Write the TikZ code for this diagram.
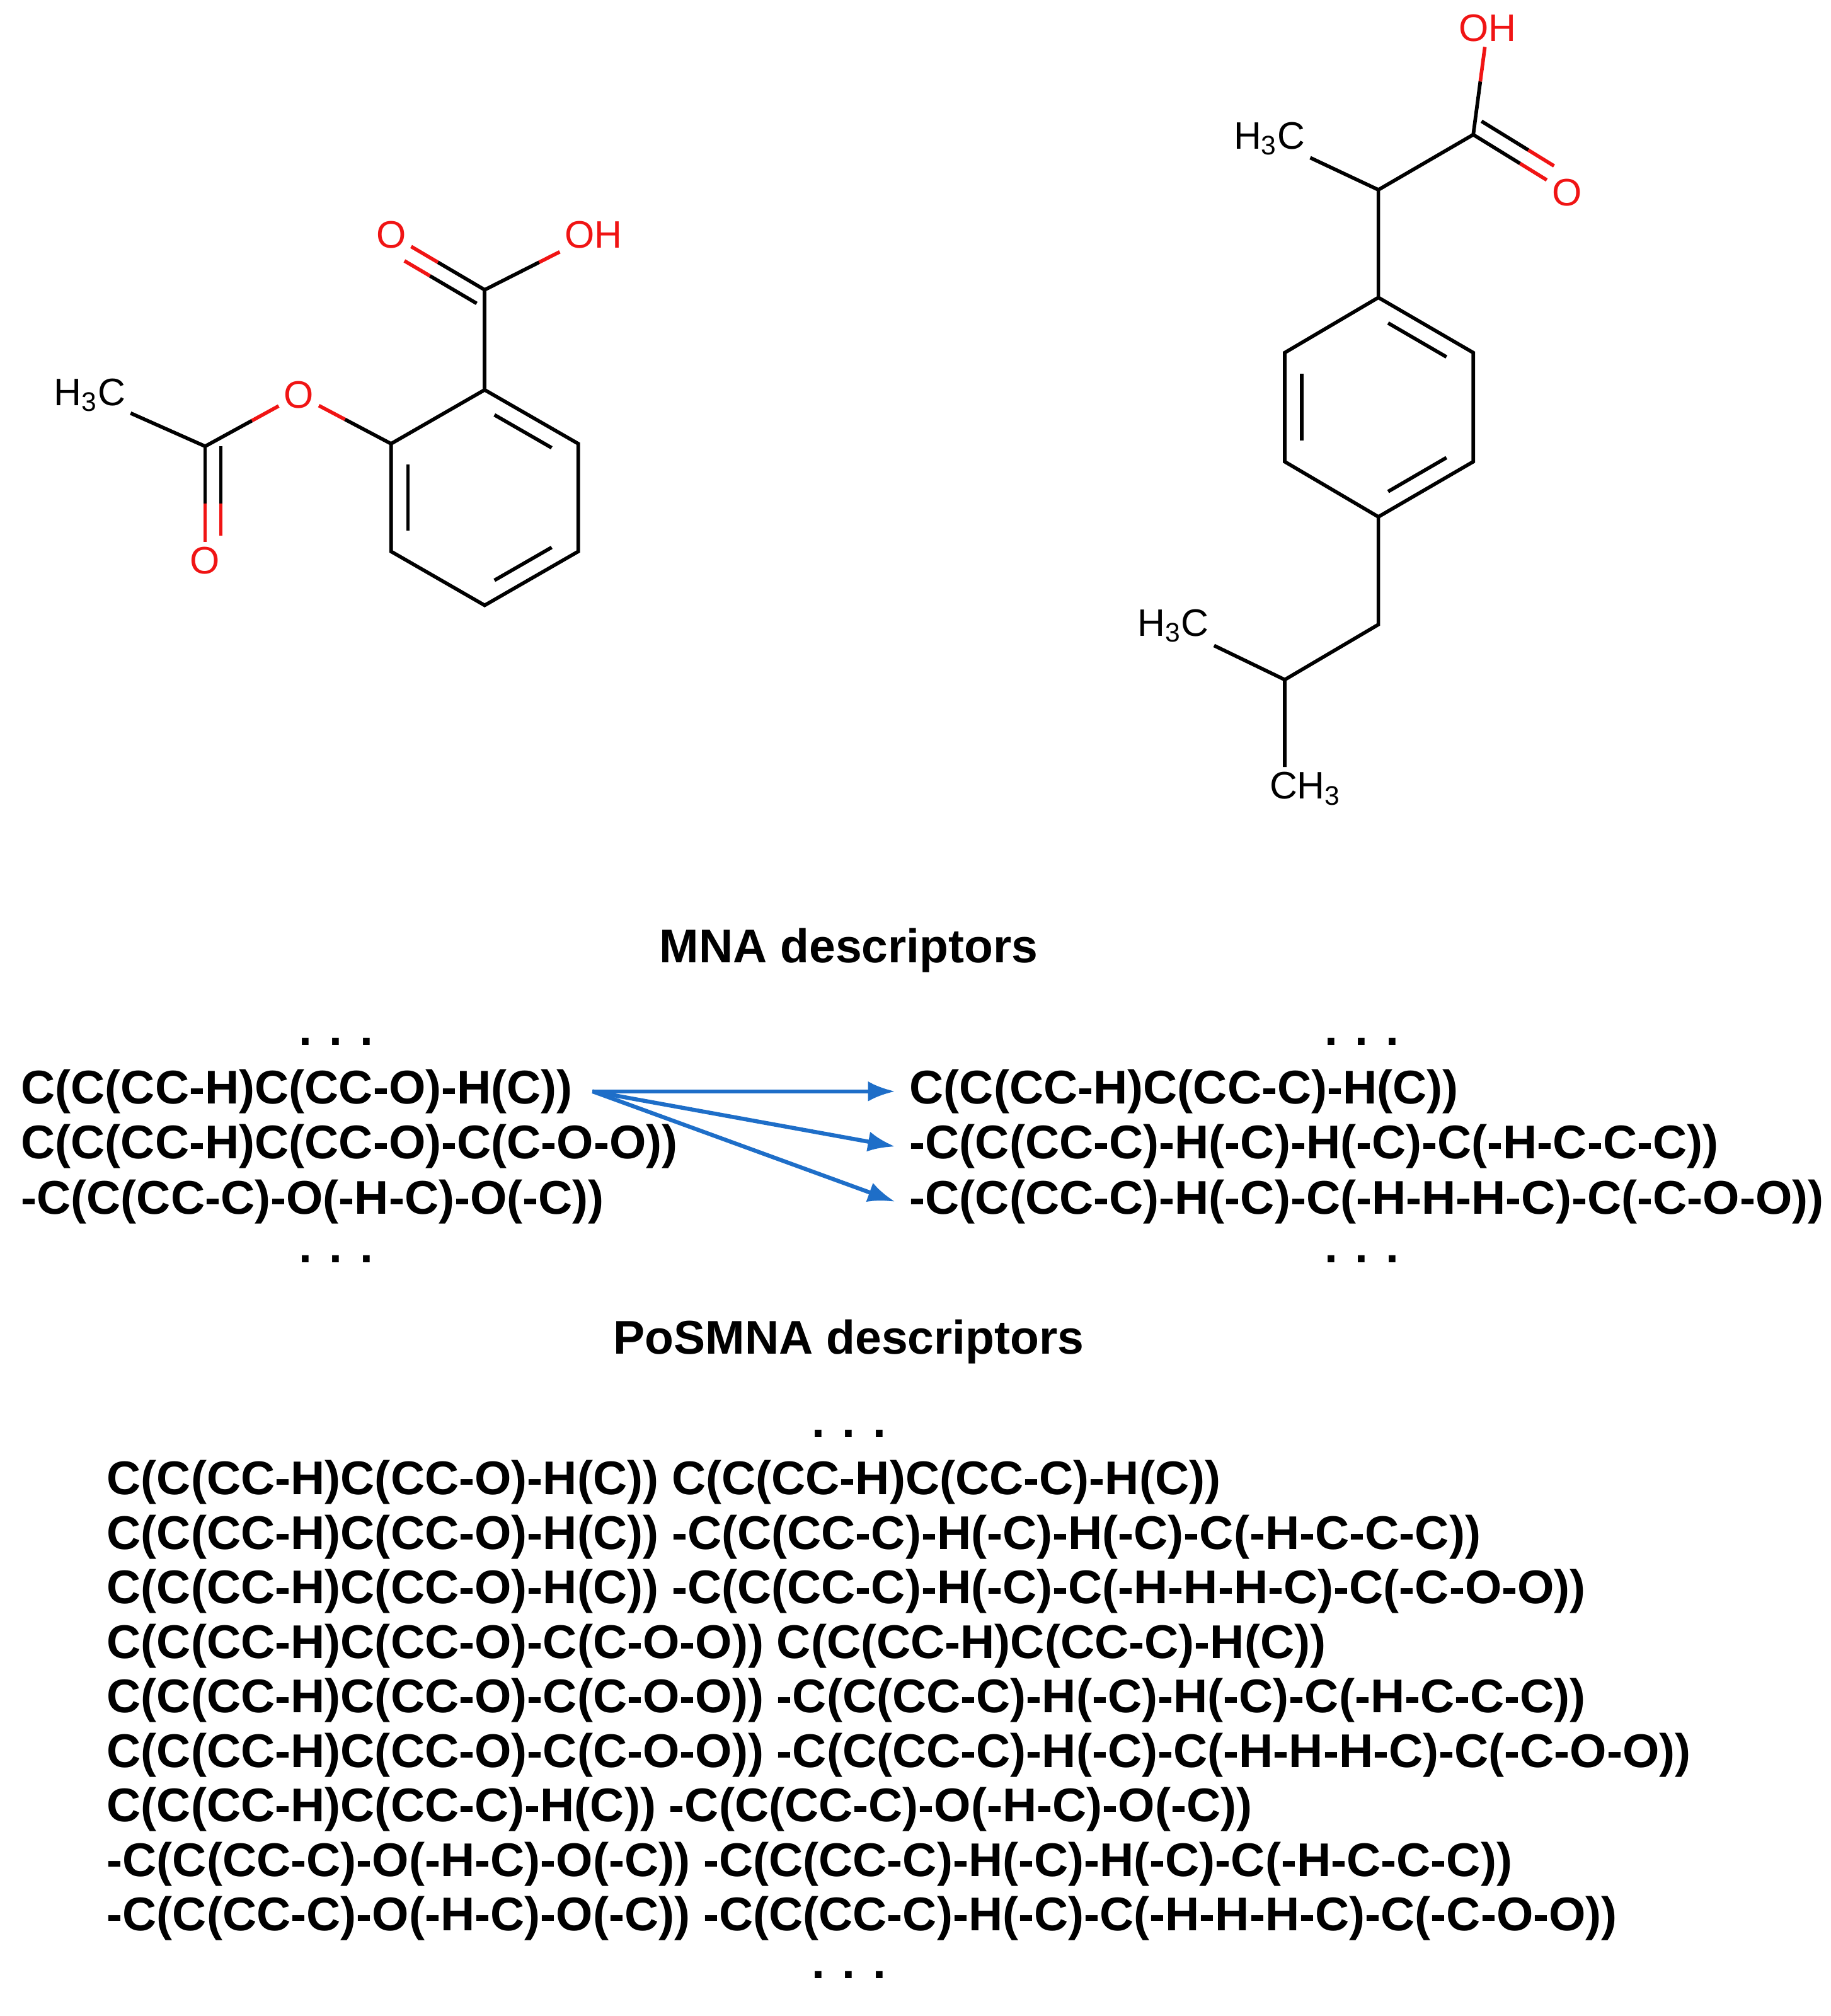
\documentclass[tikz,border=0pt]{standalone}
\usepackage{fontspec}
\setmainfont{Liberation Sans}
\usetikzlibrary{calc,arrows.meta}
\definecolor{oxred}{RGB}{240,20,20}
\definecolor{arrblue}{RGB}{30,110,200}
\newcommand\hbond[3]{\draw (#1) -- ($(#1)!0.5!(#2)$); \draw[#3] ($(#1)!0.5!(#2)$) -- (#2);}
\newcommand\dbond[2]{%
  \hbond{#1}{#2}{oxred}
  \coordinate (p) at ($(#1)!7pt!90:(#2)$);
  \coordinate (q) at ($(#2)!7pt!-90:(#1)$);
  \draw (p) -- ($(p)!0.5!(q)$); \draw[oxred] ($(p)!0.5!(q)$) -- ($(q)!11pt!(p)$);}
\newcommand\ringin[3]{\draw[shorten <=5pt,shorten >=5pt] ($(#1)!0.82!(#2)$) -- ($(#1)!0.82!(#3)$);}
\begin{document}
\begin{tikzpicture}[x=0.02cm,y=-0.02cm,line width=1.6pt,
    atom/.style={inner sep=1.5pt,font=\fontsize{17}{17}\selectfont},
    atomO/.style={atom,text=oxred},
    desc/.style={anchor=west,inner sep=0pt,font=\fontsize{21}{21}\selectfont\bfseries},
    head/.style={inner sep=0pt,font=\fontsize{21}{21}\selectfont\bfseries},
    dots/.style={inner sep=0pt,font=\fontsize{21}{21}\selectfont\bfseries},
    arr/.style={-{Latex[length=12pt,width=9pt]},arrblue,line width=1.8pt}]
  \useasboundingbox (0,0) rectangle (1428,1572);
  % aspirine
  \coordinate (actr) at (378,388);
  \coordinate (a1) at (378,304); \coordinate (a2) at (451,346);
  \coordinate (a3) at (451,430); \coordinate (a4) at (378,472);
  \coordinate (a5) at (305,430); \coordinate (a6) at (305,346);
  \draw (a1) -- (a2) -- (a3) -- (a4) -- (a5) -- (a6) -- cycle;
  \ringin{actr}{a1}{a2} \ringin{actr}{a3}{a4} \ringin{actr}{a5}{a6}
  \coordinate (ac) at (378,226);
  \node[atomO] (aO1) at (305,183) {O};
  \node[atomO] (aOH) at (463,183) {OH};
  \node[atomO] (aO2) at (233,308) {O};
  \coordinate (ac2) at (160,348);
  \node[atom] (aMe) at (70,308) {H\textsubscript{3}C};
  \node[atomO] (aO3) at (160,437) {O};
  \draw (a1) -- (ac);
  \dbond{ac}{aO1}
  \hbond{ac}{aOH}{oxred}
  \hbond{a6}{aO2}{oxred}
  \hbond{ac2}{aO2}{oxred}
  \draw (aMe) -- (ac2);
  \dbond{ac2}{aO3}
  % ibuprofene
  \coordinate (ictr) at (1075,318);
  \coordinate (i1) at (1075,232); \coordinate (i2) at (1149,275);
  \coordinate (i3) at (1149,360); \coordinate (i4) at (1075,403);
  \coordinate (i5) at (1002,360); \coordinate (i6) at (1002,275);
  \draw (i1) -- (i2) -- (i3) -- (i4) -- (i5) -- (i6) -- cycle;
  \ringin{ictr}{i1}{i2} \ringin{ictr}{i3}{i4} \ringin{ictr}{i5}{i6}
  \coordinate (ic1) at (1075,148);
  \coordinate (ic2) at (1149,105);
  \node[atom] (iMe1) at (990,108) {H\textsubscript{3}C};
  \node[atomO] (iOH) at (1160,22) {OH};
  \node[atomO] (iO) at (1222,150) {O};
  \draw (i1) -- (ic1) -- (ic2) (ic1) -- (iMe1);
  \hbond{ic2}{iOH}{oxred}
  \dbond{ic2}{iO}
  \coordinate (ic3) at (1075,487);
  \coordinate (ic4) at (1002,530);
  \node[atom] (iMe2) at (915,488) {H\textsubscript{3}C};
  \node[atom] (iMe3) at (1018,615) {CH\textsubscript{3}};
  \draw (i4) -- (ic3) -- (ic4) -- (iMe2) (ic4) -- (ic4 |- iMe3.north);
  % MNA
  \node[head] (mna) at (662,741) {MNA descriptors};
  \node[dots] (ldt) at (262,812) {. . .};
  \node[desc] (l1) at (15,851) {C(C(CC-H)C(CC-O)-H(C))};
  \node[desc] (l2) at (15,894) {C(C(CC-H)C(CC-O)-C(C-O-O))};
  \node[desc] (l3) at (15,937) {-C(C(CC-C)-O(-H-C)-O(-C))};
  \node[dots] (ldb) at (262,982) {. . .};
  \node[dots] (rdt) at (1062,812) {. . .};
  \node[desc] (r1) at (708,851) {C(C(CC-H)C(CC-C)-H(C))};
  \node[desc] (r2) at (708,894) {-C(C(CC-C)-H(-C)-H(-C)-C(-H-C-C-C))};
  \node[desc] (r3) at (708,937) {-C(C(CC-C)-H(-C)-C(-H-H-H-C)-C(-C-O-O))};
  \node[dots] (rdb) at (1062,982) {. . .};
  \coordinate (src) at ($(l1.east)+(14,0)$);
  \draw[arr] (src) -- ($(r1.west)+(-10,0)$);
  \draw[arr] (src) -- ($(r2.west)+(-10,0)$);
  \draw[arr] (src) -- ($(r3.west)+(-10,0)$);
  % PoSMNA
  \node[head] (posmna) at (662,1046) {PoSMNA descriptors};
  \node[dots] (pdt) at (662,1118) {. . .};
  \foreach \t [count=\i] in {%
    {C(C(CC-H)C(CC-O)-H(C)) C(C(CC-H)C(CC-C)-H(C))},
    {C(C(CC-H)C(CC-O)-H(C)) -C(C(CC-C)-H(-C)-H(-C)-C(-H-C-C-C))},
    {C(C(CC-H)C(CC-O)-H(C)) -C(C(CC-C)-H(-C)-C(-H-H-H-C)-C(-C-O-O))},
    {C(C(CC-H)C(CC-O)-C(C-O-O)) C(C(CC-H)C(CC-C)-H(C))},
    {C(C(CC-H)C(CC-O)-C(C-O-O)) -C(C(CC-C)-H(-C)-H(-C)-C(-H-C-C-C))},
    {C(C(CC-H)C(CC-O)-C(C-O-O)) -C(C(CC-C)-H(-C)-C(-H-H-H-C)-C(-C-O-O))},
    {C(C(CC-H)C(CC-C)-H(C)) -C(C(CC-C)-O(-H-C)-O(-C))},
    {-C(C(CC-C)-O(-H-C)-O(-C)) -C(C(CC-C)-H(-C)-H(-C)-C(-H-C-C-C))},
    {-C(C(CC-C)-O(-H-C)-O(-C)) -C(C(CC-C)-H(-C)-C(-H-H-H-C)-C(-C-O-O))}}
    \node[desc] (p\i) at (82,{1156+42.5*(\i-1)}) {\t};
  \node[dots] (pdb) at (662,1540) {. . .};
\end{tikzpicture}
\end{document}
